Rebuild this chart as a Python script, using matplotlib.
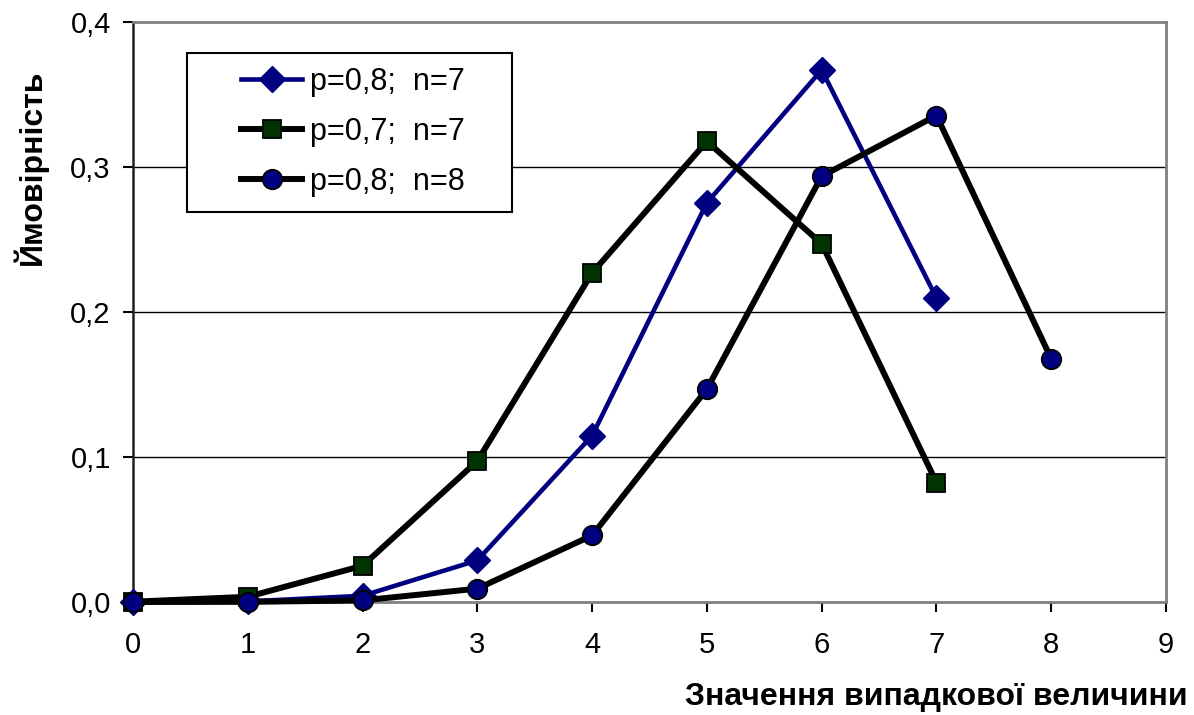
import matplotlib
matplotlib.use("Agg")
import matplotlib.pyplot as plt
from matplotlib.patches import Rectangle

x7 = [0, 1, 2, 3, 4, 5, 6, 7]
x8 = [0, 1, 2, 3, 4, 5, 6, 7, 8]
p08_n7 = [0.0000, 0.0004, 0.0043, 0.0287, 0.1147, 0.2753, 0.3670, 0.2097]
p07_n7 = [0.0002, 0.0036, 0.0250, 0.0972, 0.2269, 0.3177, 0.2471, 0.0824]
p08_n8 = [0.0000, 0.0001, 0.0011, 0.0092, 0.0459, 0.1468, 0.2936, 0.3355, 0.1678]
labels = ["p=0,8;  n=7", "p=0,7;  n=7", "p=0,8;  n=8"]
yticks = [0.0, 0.1, 0.2, 0.3, 0.4]
ytick_labels = ["0,0", "0,1", "0,2", "0,3", "0,4"]
xticks = list(range(10))
xlabel = "Значення випадкової величини"
ylabel = "Ймовірність"

plt.rcParams['font.family'] = ['Liberation Sans', 'DejaVu Sans']

fig = plt.figure(figsize=(11.94, 7.15), dpi=100)
W, H = 1194, 715
L, R, T, B = 133, 1166, 22, 602
ax = fig.add_axes([L / W, (H - B) / H, (R - L) / W, (B - T) / H])

for y in [0.1, 0.2, 0.3]:
    ax.axhline(y, color='black', lw=1.0, zorder=1)

ax.plot(x7, p08_n7, color='#000080', lw=3.3, marker='D', markersize=13.5,
        markerfacecolor='#000080', markeredgecolor='#000080', label=labels[0], zorder=3,
        clip_on=False)
ax.plot(x7, p07_n7, color='black', lw=4.3, marker='s', markersize=13.5,
        markerfacecolor='#003300', markeredgecolor='black', markeredgewidth=1.3,
        label=labels[1], zorder=3, clip_on=False)
ax.plot(x8, p08_n8, color='black', lw=4.3, marker='o', markersize=14,
        markerfacecolor='#000080', markeredgecolor='black', markeredgewidth=1.3,
        label=labels[2], zorder=3, clip_on=False)

ax.set_xlim(0, 9)
ax.set_ylim(0, 0.4)
ax.set_xticks(xticks)
ax.set_xticklabels([str(t) for t in xticks], fontsize=21)
ax.set_yticks(yticks)
ax.set_yticklabels(ytick_labels, fontsize=21)
ax.tick_params(axis='both', direction='out', length=7, width=1.5, color='black')
ax.tick_params(axis='x', pad=14)
ax.tick_params(axis='y', pad=9)

ax.spines['left'].set_color('#202020')
ax.spines['left'].set_linewidth(1.8)
for s in ['top', 'right', 'bottom']:
    ax.spines[s].set_color('#808080')
    ax.spines[s].set_linewidth(2.0)

# legend frame (placed in figure pixel coordinates)
frame = Rectangle((187 / W, 1 - 212 / H), (512 - 187) / W, (212 - 53) / H,
                  transform=fig.transFigure, facecolor='white',
                  edgecolor='black', lw=1.5, zorder=5, clip_on=False)
ax.add_patch(frame)
leg = ax.legend(loc='center left', bbox_to_anchor=(241 / W, 1 - 132 / H),
                bbox_transform=fig.transFigure,
                fontsize=22, frameon=False, handlelength=2.0, borderpad=0,
                labelspacing=0.65, handletextpad=0.25, borderaxespad=0)
leg.set_zorder(6)

fig.text(30 / W, 1 - 167 / H, ylabel, rotation=90, fontsize=23, fontweight='bold',
         ha='center', va='center')
fig.text(1188 / W, 1 - 697 / H, xlabel, fontsize=23, fontweight='bold',
         ha='right', va='center')

fig.savefig("out.png", dpi=100)
